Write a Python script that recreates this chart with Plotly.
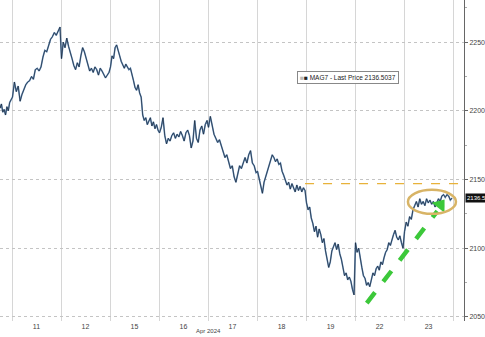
import plotly.graph_objects as go

# ---- data ----
day_labels = ["10", "11", "12", "15", "16", "17", "18", "19", "22", "23"]
d10 = [2204, 2206, 2202, 2205, 2199, 2201, 2197, 2203, 2200, 2206, 2208]
d11 = [2210, 2221, 2214, 2218, 2207, 2212, 2216, 2219, 2221, 2222, 2225, 2223, 2230, 2231,
       2229, 2232, 2239, 2244, 2243, 2248, 2252, 2254, 2257, 2255, 2258, 2261]
d12 = [2238, 2250, 2246, 2253, 2247, 2243, 2238, 2233, 2230, 2235, 2232, 2240, 2246, 2243,
       2238, 2234, 2229, 2231, 2228, 2232, 2230, 2226, 2231, 2229, 2227, 2224, 2226, 2228]
d15 = [2232, 2240, 2238, 2246, 2248, 2243, 2240, 2236, 2233, 2231, 2234, 2232, 2230, 2231,
       2227, 2222, 2217, 2215, 2219, 2213, 2210, 2197, 2193, 2195, 2190, 2193, 2195, 2189,
       2192, 2187, 2190, 2186]
d16 = [2184, 2188, 2195, 2182, 2176, 2180, 2178, 2182, 2184, 2180, 2183, 2181, 2185, 2182,
       2178, 2184, 2186, 2182, 2173, 2178, 2193, 2180, 2177, 2186, 2189, 2183, 2190, 2193]
d17 = [2188, 2196, 2190, 2183, 2180, 2177, 2179, 2174, 2170, 2166, 2168, 2162, 2158, 2160,
       2152, 2148, 2155, 2160, 2158, 2163, 2166, 2162, 2168, 2171, 2162, 2160, 2155]
d18 = [2156, 2150, 2146, 2140, 2148, 2152, 2155, 2160, 2164, 2168, 2166, 2163, 2165, 2161,
       2162, 2156, 2153, 2150, 2146, 2148, 2143, 2147, 2144, 2141, 2146, 2142, 2145, 2141,
       2144, 2142]
d19 = [2133, 2128, 2130, 2122, 2118, 2112, 2116, 2108, 2114, 2110, 2104, 2107, 2098, 2092,
       2086, 2090, 2098, 2101, 2104, 2099, 2103, 2096, 2092, 2086, 2080, 2082, 2077, 2079,
       2076, 2070, 2066]
d22 = [2104, 2097, 2100, 2092, 2086, 2080, 2078, 2073, 2075, 2072, 2078, 2082, 2080, 2085,
       2087, 2084, 2090, 2088, 2093, 2097, 2099, 2104, 2102, 2107, 2110, 2113, 2108, 2106,
       2109, 2104, 2100]
d23 = [2112, 2119, 2116, 2123, 2121, 2128, 2131, 2134, 2130, 2136, 2132, 2134, 2131, 2136,
       2133, 2135, 2132, 2134, 2130, 2133, 2136, 2134, 2138, 2139, 2137, 2139, 2138, 2135,
       2136.5037]
days = [d10, d11, d12, d15, d16, d17, d18, d19, d22, d23]
last_price = 2136.5037
ref_level = 2147
y_ticks = [2050, 2100, 2150, 2200, 2250]

# ---- build series ----
xs, ys = [], []
for k, vals in enumerate(days):
    n = len(vals)
    start = 0.70 if k == 0 else k + 0.01
    end = k + 0.98
    for i, v in enumerate(vals):
        xs.append(start + (end - start) * i / (n - 1))
        ys.append(v)

fig = go.Figure()
fig.add_trace(go.Scatter(x=xs, y=ys, mode="lines",
                         line=dict(color="#6f97c2", width=1.6), hoverinfo="skip"))
fig.add_trace(go.Scatter(x=xs, y=ys, mode="lines",
                         line=dict(color="#172232", width=0.7)))

# reference (orange dashed) level
fig.add_shape(type="line", xref="x", yref="y", x0=6.98, x1=10.3, y0=ref_level, y1=ref_level,
              line=dict(color="#e8b23a", width=1.2, dash="dash"))

# green dashed trend arrow
fig.add_shape(type="line", xref="x", yref="y", x0=8.24, y0=2060, x1=9.68, y1=2127,
              line=dict(color="#3cc83a", width=4.5, dash="dash"))
fig.add_trace(go.Scatter(x=[9.74], y=[2131.5], mode="markers",
                         marker=dict(symbol="triangle-up", size=14, angle=38, color="#3cc83a")))

# gold ellipse
fig.add_shape(type="circle", xref="x", yref="y", x0=9.08, x1=10.06, y0=2125, y1=2142.5,
              line=dict(color="#d8b466", width=2.5))

# legend box
fig.add_annotation(xref="paper", yref="paper", x=0.64, y=0.76, xanchor="left", yanchor="middle",
                   text="<span style='color:#bbb'>■</span>■ MAG7 - Last Price 2136.5037",
                   showarrow=False, font=dict(size=6.5, color="#222", family="Liberation Sans"),
                   bordercolor="#888", borderwidth=1, borderpad=2, bgcolor="white")

# last price tag
fig.add_annotation(xref="paper", yref="y", x=1.0, y=last_price, xanchor="left", yanchor="middle",
                   xshift=1, text="2136.5", showarrow=False,
                   font=dict(size=6, color="white", family="Liberation Sans"),
                   bgcolor="#111", borderpad=1)

# month label
fig.add_annotation(xref="x", yref="paper", x=5.0, y=0, yshift=-10, yanchor="middle",
                   text="Apr 2024", showarrow=False, borderpad=0,
                   font=dict(size=6, color="#444", family="Liberation Sans"))

fig.update_layout(
    width=485, height=337,
    margin=dict(l=0, r=21, t=0, b=16),
    paper_bgcolor="white", plot_bgcolor="white",
    showlegend=False,
    font=dict(family="Liberation Sans", size=7, color="#444"),
)
fig.update_xaxes(
    range=[0.755, 10.224],
    tickmode="array",
    tickvals=[k + 0.5 for k in range(1, 10)],
    ticktext=day_labels[1:],
    showgrid=False, zeroline=False, showline=False, ticks="",
    minor=dict(tickmode="linear", tick0=0, dtick=1, showgrid=True,
               gridcolor="#d6d6d6", gridwidth=1),
    tickfont=dict(size=7, color="#444"),
)
fig.update_yaxes(
    side="right", range=[2047, 2280.7],
    tickmode="array", tickvals=y_ticks,
    showgrid=True, gridcolor="#c4c4c4", griddash="dot", gridwidth=1,
    zeroline=False, showline=True, linecolor="#666", linewidth=1,
    ticks="outside", ticklen=3, tickcolor="#666",
    minor=dict(tickmode="array", tickvals=[2075, 2125, 2175, 2225, 2275],
               ticks="outside", ticklen=2, tickcolor="#aaa", showgrid=False),
    tickfont=dict(size=7, color="#444"),
)

fig.write_html("out.html")
